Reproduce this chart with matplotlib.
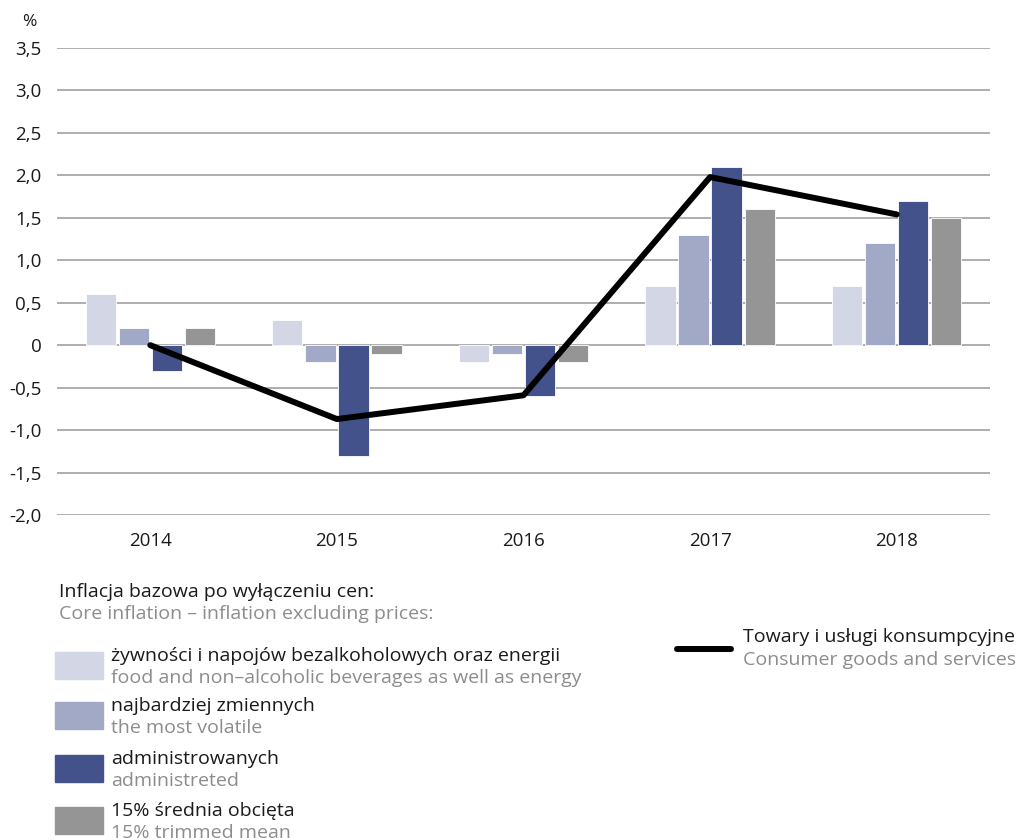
import numpy as np
import matplotlib.pyplot as plt
from matplotlib.patches import Rectangle
from matplotlib.lines import Line2D

plt.rcParams['font.family'] = ['Open Sans', 'DejaVu Sans']

# data
years = ['2014', '2015', '2016', '2017', '2018']
food_energy = [0.6, 0.3, -0.2, 0.7, 0.7]
most_volatile = [0.2, -0.2, -0.1, 1.3, 1.2]
administered = [-0.3, -1.3, -0.6, 2.1, 1.7]
trimmed_mean = [0.2, -0.1, -0.2, 1.6, 1.5]
cpi = [0.0, -0.87, -0.59, 1.98, 1.54]

series = [food_energy, most_volatile, administered, trimmed_mean]
colors = ['#d2d6e5', '#a2a9c6', '#43528b', '#959595']
labels_pl = ['żywności i napojów bezalkoholowych oraz energii', 'najbardziej zmiennych',
             'administrowanych', '15% średnia obcięta']
labels_en = ['food and non\u2013alcoholic beverages as well as energy', 'the most volatile',
             'administreted', '15% trimmed mean']
yticks = np.arange(-2.0, 3.51, 0.5)
gray_txt = '#8c8c8c'
fs = 13.5   # ticks
lfs = 14    # legend block

W, H = 1017, 840
fig = plt.figure(figsize=(W / 100, H / 100), dpi=100)
ax = fig.add_axes([57 / W, 1 - 515 / H, 933 / W, 467 / H])

x = np.arange(len(years))
width = 0.162
step = 0.177
for i, (vals, c) in enumerate(zip(series, colors)):
    ax.bar(x + (i - 1.5) * step, vals, width, color=c, edgecolor='white', linewidth=0.6, zorder=2)

ax.plot(x, cpi, color='black', linewidth=4.3, solid_capstyle='round', solid_joinstyle='round', zorder=3)

ax.set_xlim(-0.5, len(years) - 0.5)
ax.set_ylim(-2.0, 3.5)
ax.set_yticks(yticks)
ax.set_yticklabels(['0' if abs(v) < 1e-9 else f'{v:.1f}'.replace('.', ',') for v in yticks])
ax.set_xticks(x)
ax.set_xticklabels(years)
ax.tick_params(length=0, labelsize=fs, colors='#1a1a1a')
ax.tick_params(axis='y', pad=11)
ax.tick_params(axis='x', pad=12)
ax.grid(axis='y', color='#a8a8a8', linewidth=1.3, zorder=0)
for s in ax.spines.values():
    s.set_visible(False)

def fx(px):
    return px / W

def fy(py):
    return 1 - py / H

fig.text(fx(22), fy(22), '%', fontsize=fs - 1, va='center', color='#1a1a1a')

fig.text(fx(59), fy(592), 'Inflacja bazowa po wyłączeniu cen:', fontsize=lfs, va='center', color='#1a1a1a')
fig.text(fx(59), fy(614), 'Core inflation \u2013 inflation excluding prices:', fontsize=lfs, va='center', color=gray_txt)

patch_tops = [652, 702, 755, 807]
for top, c, lp, le in zip(patch_tops, colors, labels_pl, labels_en):
    fig.patches.append(Rectangle((fx(55), fy(top + 27)), 48 / W, 27 / H, color=c,
                                 transform=fig.transFigure, figure=fig))
    fig.text(fx(111), fy(top + 4), lp, fontsize=lfs, va='center', color='#1a1a1a')
    fig.text(fx(111), fy(top + 26), le, fontsize=lfs, va='center', color=gray_txt)

fig.lines.append(Line2D([fx(677), fx(731)], [fy(649), fy(649)], color='black', linewidth=4.3,
                        solid_capstyle='round', transform=fig.transFigure, figure=fig))
fig.text(fx(743), fy(637), 'Towary i usługi konsumpcyjne', fontsize=lfs, va='center', color='#1a1a1a')
fig.text(fx(743), fy(660), 'Consumer goods and services', fontsize=lfs, va='center', color=gray_txt)

fig.savefig('out.png', dpi=100)
